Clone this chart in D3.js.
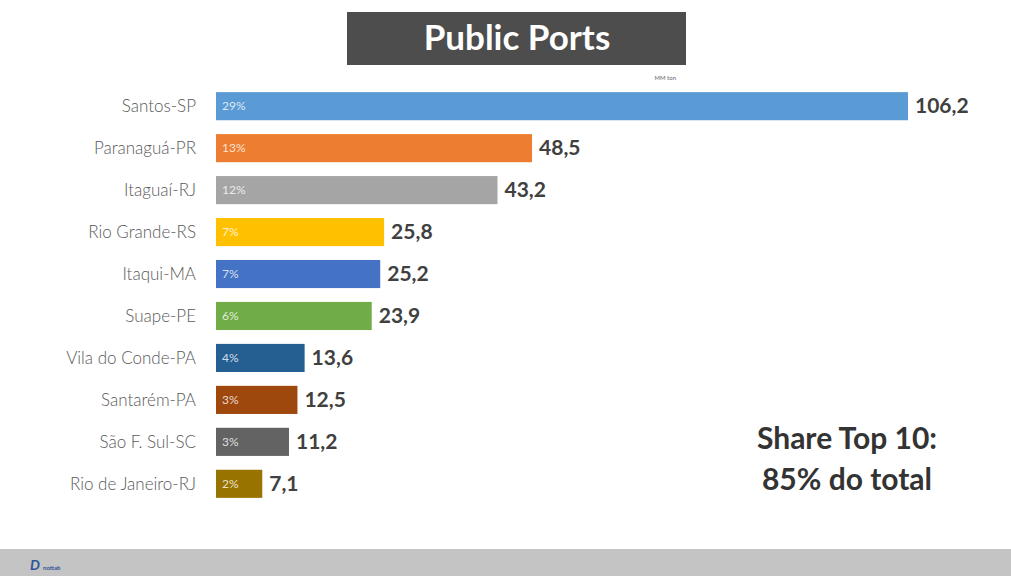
<!DOCTYPE html>
<html>
<head>
<meta charset="utf-8">
<script src="https://cdn.jsdelivr.net/npm/d3@7"></script>
<style>
  body { margin: 0; background: #fff; }
  svg { display: block; font-family: Lato, "Open Sans", sans-serif; }
</style>
</head>
<body>
<svg id="chart" width="1011" height="576"></svg>
<script>
// data
var ports = ['Santos-SP', 'Paranaguá-PR', 'Itaguaí-RJ', 'Rio Grande-RS', 'Itaqui-MA',
             'Suape-PE', 'Vila do Conde-PA', 'Santarém-PA', 'São F. Sul-SC', 'Rio de Janeiro-RJ'];
var tonnage = [106.2, 48.5, 43.2, 25.8, 25.2, 23.9, 13.6, 12.5, 11.2, 7.1];
var shares = ['29%', '13%', '12%', '7%', '7%', '6%', '4%', '3%', '3%', '2%'];
var colors = ['#5b9bd5', '#ed7d31', '#a5a5a5', '#ffc000', '#4472c4',
              '#70ad47', '#255e91', '#9e480e', '#636363', '#997300'];

var svg = d3.select('#chart');

var x = d3.scaleLinear().domain([0, 106.2]).range([216, 908]);
var y = d3.scaleBand().domain(ports).range([85, 505]).paddingInner(0.33).paddingOuter(0.17);

// title box
svg.append('rect').attr('x', 347).attr('y', 12).attr('width', 339).attr('height', 53).attr('fill', '#4d4d4d');
svg.append('text').attr('x', 517).attr('y', 50).attr('text-anchor', 'middle')
  .attr('fill', '#fff').attr('font-size', 35).attr('font-weight', 'bold').text('Public Ports');
svg.append('text').attr('x', 676).attr('y', 80).attr('text-anchor', 'end')
  .attr('fill', '#666').attr('font-size', 6).text('MM ton');

var rows = svg.selectAll('g.row').data(ports).enter().append('g').attr('class', 'row');

rows.append('rect')
  .attr('x', x(0))
  .attr('y', function(d) { return y(d); })
  .attr('width', function(d, i) { return x(tonnage[i]) - x(0); })
  .attr('height', y.bandwidth())
  .attr('fill', function(d, i) { return colors[i]; });

rows.append('text')
  .attr('x', 196)
  .attr('y', function(d) { return y(d) + y.bandwidth() / 2 + 6; })
  .attr('text-anchor', 'end').attr('font-size', 17).attr('font-weight', 300).attr('fill', '#595959')
  .text(function(d) { return d; });

rows.append('text')
  .attr('x', x(0) + 6)
  .attr('y', function(d) { return y(d) + y.bandwidth() / 2 + 4; })
  .attr('font-size', 12).attr('fill', '#fff').attr('fill-opacity', 0.8)
  .text(function(d, i) { return shares[i]; });

rows.append('text')
  .attr('x', function(d, i) { return x(tonnage[i]) + 7; })
  .attr('y', function(d) { return y(d) + y.bandwidth() / 2 + 7; })
  .attr('font-size', 21).attr('font-weight', 'bold').attr('fill', '#404040')
  .text(function(d, i) { return String(tonnage[i]).replace('.', ','); });

// note
svg.append('text').attr('x', 847).attr('y', 449).attr('text-anchor', 'middle')
  .attr('font-size', 30).attr('font-weight', 'bold').attr('fill', '#333').text('Share Top 10:');
svg.append('text').attr('x', 847).attr('y', 490).attr('text-anchor', 'middle')
  .attr('font-size', 30).attr('font-weight', 'bold').attr('fill', '#333').text('85% do total');

// footer band
svg.append('rect').attr('x', 0).attr('y', 549).attr('width', 1011).attr('height', 27).attr('fill', '#c4c4c4');
svg.append('text').attr('x', 30).attr('y', 570).attr('font-size', 14).attr('font-style', 'italic')
  .attr('font-weight', 'bold').attr('fill', '#2f5597').text('D');
svg.append('text').attr('x', 43).attr('y', 570).attr('font-size', 6).attr('font-weight', 'bold')
  .attr('fill', '#2f5597').text('nottab');
</script>
</body>
</html>
